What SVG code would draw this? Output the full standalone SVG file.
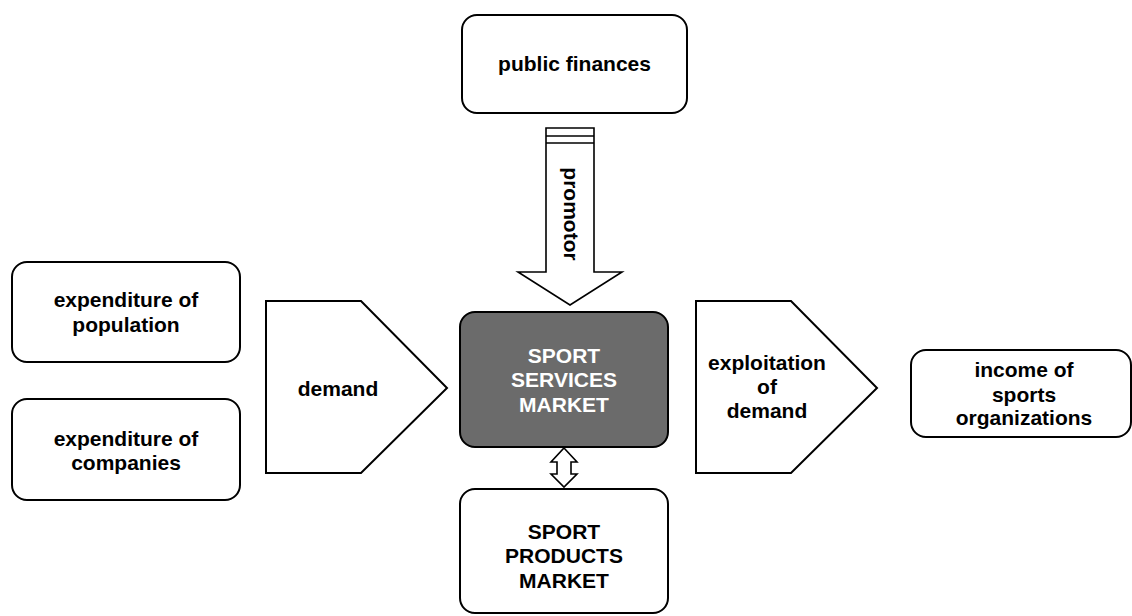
<svg xmlns="http://www.w3.org/2000/svg" width="1132" height="616" viewBox="0 0 1132 616">
<style>
.box{fill:#fff;stroke:#000;stroke-width:2}
.dark{fill:#6b6b6b;stroke:#000;stroke-width:2}
.shape{fill:#fff;stroke:#000;stroke-width:2}
.arrow{fill:#fff;stroke:#000;stroke-width:1.6}
.t{font-family:"Liberation Sans",Arial,sans-serif;font-weight:bold;font-size:21px;fill:#000;text-anchor:middle}
.w{fill:#fff}
</style>
<rect width="1132" height="616" fill="#fff"/>
<g id="public-finances">
<rect class="box" x="462" y="15" width="225" height="98" rx="15"/>
<text class="t" x="574.5" y="71">public finances</text>
</g>
<g id="expenditure-population">
<rect class="box" x="12" y="262" width="228" height="100" rx="15"/>
<text class="t" x="126" y="307">expenditure of</text>
<text class="t" x="126" y="332">population</text>
</g>
<g id="expenditure-companies">
<rect class="box" x="12" y="399" width="228" height="101" rx="15"/>
<text class="t" x="126" y="446">expenditure of</text>
<text class="t" x="126" y="470">companies</text>
</g>
<g id="demand">
<polygon class="shape" points="266,301 361,301 447,388 361,473 266,473"/>
<text class="t" x="338" y="396">demand</text>
</g>
<g id="sport-services-market">
<rect class="dark" x="460" y="312" width="208" height="135" rx="15"/>
<text class="t w" x="564" y="363">SPORT</text>
<text class="t w" x="564" y="387">SERVICES</text>
<text class="t w" x="564" y="412">MARKET</text>
</g>
<g id="exploitation-of-demand">
<polygon class="shape" points="696,301 791,301 877,388 791,473 696,473"/>
<text class="t" x="767" y="370">exploitation</text>
<text class="t" x="767" y="394">of</text>
<text class="t" x="767" y="418">demand</text>
</g>
<g id="income-sports-organizations">
<rect class="box" x="911" y="350" width="220" height="87" rx="15"/>
<text class="t" x="1024" y="377">income of</text>
<text class="t" x="1024" y="402">sports</text>
<text class="t" x="1024" y="425">organizations</text>
</g>
<g id="sport-products-market">
<rect class="box" x="460" y="489" width="208" height="124" rx="15"/>
<text class="t" x="564" y="539">SPORT</text>
<text class="t" x="564" y="563">PRODUCTS</text>
<text class="t" x="564" y="588">MARKET</text>
</g>
<g id="connectors">
<g id="promotor-arrow">
<polygon class="arrow" points="546,128 594,128 594,272 622,272 570,305 518,272 546,272"/>
<line x1="546" y1="136" x2="594" y2="136" stroke="#000" stroke-width="1.6"/>
<line x1="546" y1="143" x2="594" y2="143" stroke="#000" stroke-width="1.6"/>
<text class="t" transform="translate(564,214) rotate(90)" x="0" y="0">promotor</text>
</g>
<polygon id="double-arrow" class="arrow" points="564,448 577,462 571,462 571,474 577,474 564,487 551,474 557,474 557,462 551,462"/>
</g>
</svg>
